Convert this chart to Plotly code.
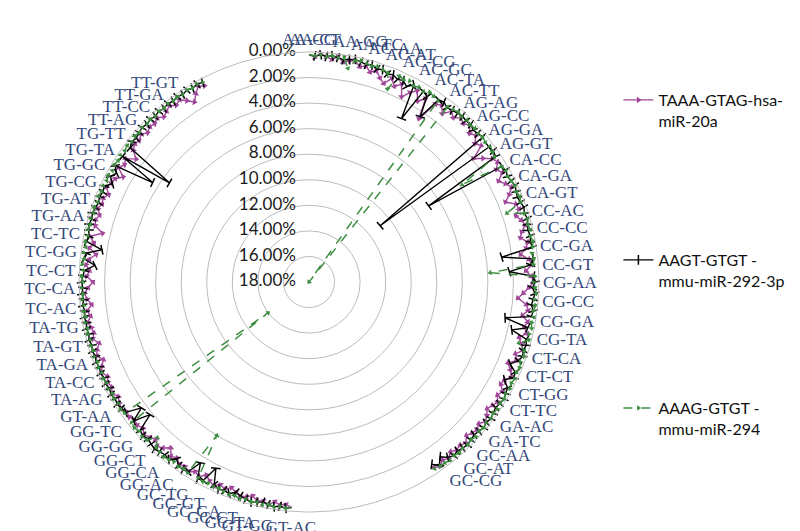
import plotly.graph_objects as go

# ---------------- data (values in %) ----------------
# visible category labels (every third category is labelled)
labels_arc1 = ["AA-CG", "AA-CT", "AA-GG", "AA-TC", "AC-AA", "AC-AT", "AC-CG", "AC-GC", "AC-TA",
               "AC-TT", "AG-AG", "AG-CC", "AG-GA", "AG-GT", "CA-CC", "CA-GA", "CA-GT", "CC-AC",
               "CC-CC", "CC-GA", "CC-GT", "CG-AA", "CG-CC", "CG-GA", "CG-TA", "CT-CA", "CT-CT",
               "CT-GG", "CT-TC", "GA-AC", "GA-TC", "GC-AA", "GC-AT", "GC-CG"]
labels_arc2 = ["GT-AC", "GT-GG", "GC-TA", "GC-CT", "GC-GA", "GC-GT", "GC-TG", "GG-AC", "GG-CA",
               "GG-CT", "GG-GG", "GG-TC", "GT-AA", "TA-AG", "TA-CC", "TA-GA", "TA-GT", "TA-TG",
               "TC-AC", "TC-CA", "TC-CT", "TC-GG", "TC-TC", "TG-AA", "TG-AT", "TG-CG", "TG-GC",
               "TG-TA", "TG-TT", "TT-AG", "TT-CC", "TT-GA", "TT-GT"]

radial_ticks = [0, 2, 4, 6, 8, 10, 12, 14, 16, 18]

series_names = ["TAAA-GTAG-hsa-<br>miR-20a",
                "AAGT-GTGT -<br>mmu-miR-292-3p",
                "AAAG-GTGT -<br>mmu-miR-294"]

mag_arc1 = [0.2, 0.4, 0.1, 0.3, 0.5, 0.2, 0.6, 0.4, 0.3, 0.7,
            0.5, 0.9, 0.6, 1.1, 1.4, 0.8, 1.3, 0.9, 1.8, 1.2,
            0.8, 1.5, 1.0, 2.6, 0.9, 0.7, 1.2, 0.6, 0.9, 0.5,
            0.7, 0.4, 0.9, 0.6, 1.1, 0.8, 1.9, 1.3, 0.7, 0.5,
            0.9, 0.6, 1.2, 0.8, 0.5, 0.9, 1.4, 0.7, 0.6, 1.0,
            0.7, 0.5, 0.9, 1.1, 0.6, 0.8, 1.3, 0.7, 0.5, 1.0,
            0.6, 0.4, 0.8, 1.2, 1.6, 0.9, 0.7, 1.1, 0.6, 0.8,
            0.5, 1.0, 0.7, 0.4, 0.9, 0.6, 1.2, 0.8, 0.5, 0.9,
            1.0, 0.6, 0.8, 0.5, 0.7, 0.9, 0.6, 0.4, 0.7, 0.5,
            0.6, 0.8, 0.4, 0.6, 0.5, 0.7, 0.4, 0.6, 0.3, 0.5]
mag_arc2 = [0.3, 0.5, 0.4, 0.6, 0.3, 0.5, 0.4, 0.7, 0.5, 0.4,
            0.6, 0.8, 0.5, 0.7, 0.4, 0.6, 0.9, 0.5, 0.7, 0.4,
            0.6, 0.5, 0.8, 0.6, 1.1, 0.7, 0.5, 0.8, 0.6, 0.4,
            0.7, 0.5, 0.6, 0.4, 0.5, 0.3, 0.4, 0.6, 0.3, 0.5,
            0.4, 0.6, 0.3, 0.5, 0.8, 0.4, 0.6, 0.9, 0.5, 0.7,
            0.6, 0.4, 0.7, 0.5, 0.9, 0.6, 0.4, 0.7, 1.1, 0.6,
            0.8, 0.5, 0.7, 1.2, 0.6, 0.9, 0.5, 1.4, 0.7, 0.6,
            0.8, 0.5, 0.7, 0.6, 0.9, 0.5, 0.7, 0.8, 1.3, 0.6,
            0.9, 0.7, 1.4, 0.8, 0.6, 0.7, 0.5, 0.8, 0.6, 0.7,
            0.5, 0.8, 0.6, 0.4, 0.7, 0.5, 0.9, 1.3, 0.8, 0.4, 0.6]

blk_arc1 = [0.2, 0.3, 0.2, 0.3, 0.2, 0.3, 0.4, 0.3, 0.2, 0.3,
            0.4, 0.3, 0.5, 0.4, 0.6, 0.5, 0.7, 0.6, 0.9, 0.5,
            3.3, 0.6, 0.8, 2.4, 0.5, 0.4, 0.6, 0.5, 0.4, 0.3,
            0.4, 0.3, 0.5, 0.4, 0.3, 10.9, 0.4, 0.3, 0.4, 6.9,
            0.4, 0.3, 0.4, 0.3, 0.2, 0.3, 0.4, 0.3, 0.2, 0.3,
            0.2, 0.3, 0.4, 0.3, 0.4, 0.3, 2.8, 0.4, 0.6, 2.3,
            0.4, 0.3, 0.5, 0.3, 0.4, 0.5, 0.3, 0.4, 2.4, 0.5,
            1.7, 0.4, 0.3, 0.4, 0.3, 0.5, 1.0, 0.4, 0.3, 0.9,
            0.4, 0.3, 0.2, 0.3, 0.4, 0.3, 0.2, 0.3, 0.2, 0.3,
            0.4, 0.3, 0.2, 0.3, 0.4, 0.3, 0.5, 0.9, 0.4, 0.8]
blk_arc2 = [0.3, 0.2, 0.3, 0.2, 0.3, 0.4, 0.3, 0.2, 0.3, 0.4,
            0.6, 0.3, 0.4, 0.3, 0.5, 1.7, 0.4, 0.3, 1.5, 0.4,
            0.3, 0.4, 0.7, 0.3, 0.4, 0.3, 0.2, 0.3, 0.4, 0.3,
            0.4, 1.8, 0.5, 1.6, 0.4, 0.3, 0.2, 0.3, 0.2, 0.3,
            0.2, 0.3, 0.2, 0.3, 0.2, 0.3, 0.2, 0.3, 0.2, 0.3,
            0.2, 0.3, 0.2, 0.3, 0.2, 0.3, 0.2, 0.3, 0.2, 0.3,
            0.4, 1.2, 0.3, 0.4, 1.6, 0.3, 0.4, 0.3, 0.2, 0.3,
            0.2, 0.3, 0.4, 0.3, 0.4, 0.3, 0.8, 0.4, 0.7, 0.3,
            3.5, 0.4, 4.6, 0.5, 0.3, 0.4, 0.3, 0.2, 0.3, 0.2,
            0.3, 0.2, 0.3, 0.2, 0.3, 0.2, 0.3, 0.2, 0.3, 0.2, 0.3]

grn_arc1 = [0.2, 0.3, 0.2, 0.3, 0.2, 0.3, 0.2, 1.0, 0.3, 0.2,
            0.3, 0.4, 0.3, 0.4, 0.5, 1.7, 0.4, 0.5, 0.4, 0.6,
            0.5, 0.6, 0.4, 0.5, 0.6, 18.0, 0.5, 0.4, 0.3, 0.4,
            0.3, 0.4, 0.3, 0.4, 0.3, 0.4, 0.3, 0.4, 0.5, 3.8,
            0.4, 0.3, 0.4, 0.3, 0.2, 0.3, 0.2, 0.3, 1.6, 0.3,
            0.2, 0.3, 0.2, 0.3, 0.2, 0.3, 0.4, 0.3, 0.4, 3.8,
            0.3, 0.4, 0.3, 0.2, 0.3, 0.2, 0.3, 0.2, 0.3, 0.2,
            0.3, 0.2, 0.9, 0.3, 0.2, 0.3, 0.2, 0.3, 0.2, 0.3,
            0.2, 0.3, 0.2, 0.3, 0.2, 0.3, 0.2, 0.3, 0.2, 0.3,
            0.2, 0.3, 0.2, 0.3, 0.2, 0.3, 0.2, 0.3, 0.3, 0.4]
grn_arc2 = [0.3, 0.2, 0.3, 0.2, 0.3, 0.2, 0.3, 0.2, 0.3, 0.2,
            0.3, 0.2, 0.3, 0.4, 0.3, 0.4, 0.3, 0.4, 4.0, 0.3,
            0.4, 0.3, 0.4, 0.3, 0.2, 0.3, 0.4, 1.0, 0.3, 0.2,
            0.3, 0.2, 0.3, 14.0, 0.3, 0.2, 0.3, 0.2, 0.3, 0.2,
            0.3, 0.2, 0.3, 0.2, 0.3, 0.2, 0.3, 0.2, 0.3, 0.2,
            0.3, 0.2, 0.3, 0.2, 0.3, 0.2, 0.3, 0.2, 0.3, 0.2,
            0.3, 0.2, 0.3, 0.2, 0.3, 0.2, 0.3, 0.2, 0.3, 0.2,
            0.3, 0.2, 0.3, 0.2, 0.3, 0.2, 0.3, 0.2, 0.3, 0.2,
            0.3, 0.2, 0.3, 0.2, 0.3, 0.2, 0.3, 0.2, 0.3, 0.2,
            0.3, 0.2, 0.3, 0.2, 0.3, 0.2, 0.3, 0.2, 0.3, 0.2, 0.3]

gap_after_arc1 = 25   # empty categories (no values) between the two arcs
gap_after_arc2 = 20   # empty categories before returning to the top

# ---------------- build category axis ----------------
def arc_categories(labels, n, first_single=False):
    cats = []
    lab = list(labels)
    if first_single:
        cats.append(lab.pop(0))
    for L in lab:
        cats += [L, L + " ·1", L + " ·2"]
    return cats[:n]

cats1 = arc_categories(labels_arc1, len(mag_arc1), first_single=True)
gap1 = ["gap-a%d" % i for i in range(gap_after_arc1)]
cats2 = arc_categories(labels_arc2, len(mag_arc2))
gap2 = ["gap-b%d" % i for i in range(gap_after_arc2)]
categories = cats1 + gap1 + cats2 + gap2
tick_cats = labels_arc1 + labels_arc2


def full(a1, a2):
    return a1 + [None] * gap_after_arc1 + a2 + [None] * gap_after_arc2


MAG = "#A0479A"
GRN = "#3E8E41"

fig = go.Figure()
fig.add_trace(go.Scatterpolar(
    r=full(mag_arc1, mag_arc2), theta=categories, name=series_names[0],
    mode="lines+markers", connectgaps=False, legend="legend", showlegend=True,
    line=dict(color=MAG, width=1.4),
    marker=dict(symbol="triangle-up", size=6, color=MAG, angleref="previous"),
))
fig.add_trace(go.Scatterpolar(
    r=full(blk_arc1, blk_arc2), theta=categories, name=series_names[1],
    mode="lines+markers", connectgaps=False, legend="legend2", showlegend=True,
    line=dict(color="black", width=1.4),
    marker=dict(symbol="line-ew", size=7, color="black", angleref="previous",
                line=dict(color="black", width=1.5)),
))
fig.add_trace(go.Scatterpolar(
    r=full(grn_arc1, grn_arc2), theta=categories, name=series_names[2],
    mode="lines+markers", connectgaps=False, legend="legend3", showlegend=True,
    line=dict(color=GRN, width=1.5, dash="dash"),
    marker=dict(symbol="triangle-up", size=5, color=GRN, angleref="previous"),
))

# radial tick labels, drawn left of the vertical axis at each tick value
pad = "\u00a0" * 3
fig.add_trace(go.Scatterpolar(
    r=radial_ticks, theta=[categories[0]] * len(radial_ticks),
    text=["%.2f%%%s" % (v, pad) for v in radial_ticks],
    mode="text", textposition="middle left", showlegend=False, hoverinfo="skip",
    textfont=dict(family="Lato, Open Sans, sans-serif", size=17, color="#1a1a1a"),
    cliponaxis=False,
))

legend_font = dict(family="Lato, Open Sans, sans-serif", size=16, color="#111")
leg_common = dict(xanchor="left", yanchor="top", valign="top", font=legend_font,
                  bgcolor="rgba(0,0,0,0)", itemwidth=30)

fig.update_layout(
    width=800, height=531,
    margin=dict(l=0, r=0, t=0, b=0),
    paper_bgcolor="white",
    showlegend=True,
    polar=dict(
        domain=dict(x=[0.08875, 0.66375], y=[0.0508, 0.9171]),
        bgcolor="white",
        angularaxis=dict(
            type="category", categoryorder="array", categoryarray=categories,
            direction="clockwise", rotation=90,
            showgrid=False, ticks="", showline=True, linecolor="#BDBDBD", linewidth=1,
            tickmode="array", tickvals=tick_cats,
            tickfont=dict(family="Liberation Serif", size=17, color="#33477A"),
        ),
        radialaxis=dict(
            range=[18, 0], tickmode="array", tickvals=radial_ticks,
            showticklabels=False, showline=False, ticks="",
            gridcolor="#BDBDBD", gridwidth=1, angle=90,
        ),
    ),
    legend=dict(x=0.763, y=1 - 75 / 531, **leg_common),
    legend2=dict(x=0.763, y=1 - 235 / 531, **leg_common),
    legend3=dict(x=0.763, y=1 - 383 / 531, **leg_common),
)

fig.write_html("out.html")
